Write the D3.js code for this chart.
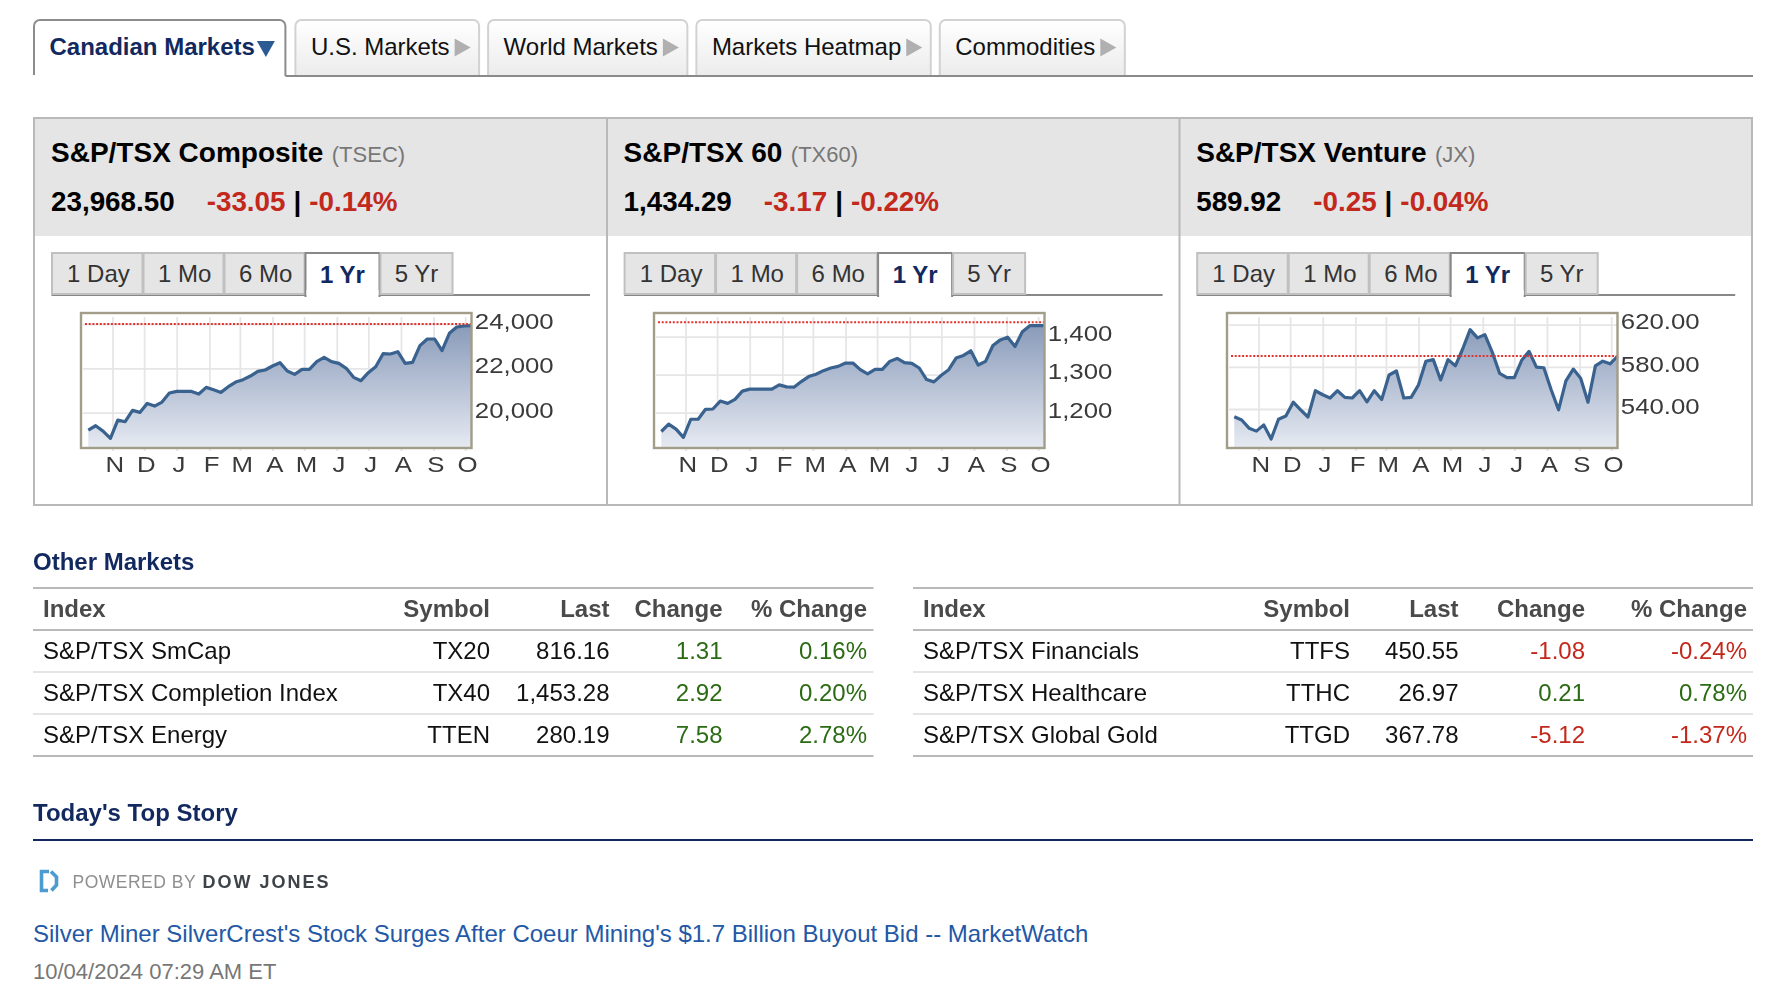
<!DOCTYPE html>
<html>
<head>
<meta charset="utf-8">
<script src="https://d3js.org/d3.v7.min.js"></script>
<style>
  html, body { margin: 0; padding: 0; background: #fff; }
  svg { display: block; }
  text { font-family: "Liberation Sans", Arial, sans-serif; }
  .soft { filter: blur(0.65px); }
</style>
</head>
<body>
<div id="page"></div>
<script>
// tabs
var tabNames = ["Canadian Markets", "U.S. Markets", "World Markets", "Markets Heatmap", "Commodities"];
var rangeNames = ["1 Day", "1 Mo", "6 Mo", "1 Yr", "5 Yr"];
var monthLetters = ["N", "D", "J", "F", "M", "A", "M", "J", "J", "A", "S", "O"];

// index panels
var panelNames = ["S&P/TSX Composite", "S&P/TSX 60", "S&P/TSX Venture"];
var panelSymbols = ["(TSEC)", "(TX60)", "(JX)"];
var panelLast = ["23,968.50", "1,434.29", "589.92"];
var panelChange = ["-33.05", "-3.17", "-0.25"];
var panelPercent = ["-0.14%", "-0.22%", "-0.04%"];
var prevClose = [24001.55, 1437.46, 590.17];

// value range of each plot frame, and the labelled ticks
var frameDomains = [[18410, 24495], [1107, 1462], [503, 631]];
var tickValues = [[20000, 22000, 24000], [1200, 1300, 1400], [540, 580, 620]];
var tickFormats = [",", ",", ".2f"];

// weekly closes
var composite = [19218, 19413, 19172, 18842, 19669, 19594, 20105, 20015, 20421, 20300, 20481, 20887, 20962,
  20962, 20962, 20842, 21143, 21037, 20917, 21173, 21383, 21489, 21654, 21865, 21925, 22105, 22256,
  21880, 21729, 21955, 21955, 22301, 22496, 22301, 22226, 22000, 21594, 21444, 21805, 22075, 22662,
  22647, 22752, 22226, 22271, 23023, 23324, 23324, 22797, 23579, 23865, 23910, 23925];
var tx60 = [1150.4, 1169.6, 1156.5, 1134.8, 1182.6, 1182.6, 1208.7, 1209.6, 1230.4, 1224.3, 1234.8, 1256.5, 1261.7,
  1261.7, 1261.7, 1261.7, 1273, 1267.8, 1267, 1281.7, 1294.8, 1300.9, 1310.4, 1317.4, 1321.7, 1330.4, 1330.4,
  1313, 1301.7, 1313.9, 1313.9, 1334.8, 1342.6, 1331.3, 1329.6, 1317.4, 1287, 1280.9, 1298.3, 1313, 1343.5,
  1350.4, 1362.6, 1325.2, 1334.8, 1376.5, 1391.3, 1398.3, 1373.9, 1413, 1428.7, 1428.7, 1428.7];
var venture = [532.7, 529.6, 521.8, 519, 524.9, 511.5, 530.2, 533.3, 546.4, 539.2, 532.4, 557.3, 553.5,
  550.4, 557.3, 551, 550.4, 557.3, 546.7, 557.3, 548.9, 572.2, 576, 550.4, 551, 562.9, 585.3,
  586.8, 567.5, 586.8, 580.9, 597.1, 615.2, 607.4, 610.5, 594, 573.8, 569.7, 569.7, 586.2, 594.6,
  579.7, 579.1, 558.2, 539.2, 566.6, 577.8, 569.1, 546.4, 580.9, 585.3, 582.8, 590];
var panelSeries = [composite, tx60, venture];
var firstWeek = new Date(2023, 9, 9);

// other markets tables
var tableHeaders = ["Index", "Symbol", "Last", "Change", "% Change"];
var leftNames = ["S&P/TSX SmCap", "S&P/TSX Completion Index", "S&P/TSX Energy"];
var leftSymbols = ["TX20", "TX40", "TTEN"];
var leftLast = ["816.16", "1,453.28", "280.19"];
var leftChange = ["1.31", "2.92", "7.58"];
var leftPercent = ["0.16%", "0.20%", "2.78%"];
var rightNames = ["S&P/TSX Financials", "S&P/TSX Healthcare", "S&P/TSX Global Gold"];
var rightSymbols = ["TTFS", "TTHC", "TTGD"];
var rightLast = ["450.55", "26.97", "367.78"];
var rightChange = ["-1.08", "0.21", "-5.12"];
var rightPercent = ["-0.24%", "0.78%", "-1.37%"];

var storyHeadline = "Silver Miner SilverCrest's Stock Surges After Coeur Mining's $1.7 Billion Buyout Bid -- MarketWatch";
var storyDate = "10/04/2024 07:29 AM ET";

var navy = "#12295f", red = "#c3281c", green = "#2b6b14", rule = "#b9b9b9";

var svg = d3.select("#page").append("svg").attr("width", 1786).attr("height", 1008);
var defs = svg.append("defs");

function label(parent, x, y, str, size, color, weight, anchor) {
  return parent.append("text").attr("x", x).attr("y", y).text(str)
    .attr("font-size", size).attr("fill", color)
    .attr("font-weight", weight || "normal").attr("text-anchor", anchor || "start");
}

// ---- top tabs ----
var tabFill = defs.append("linearGradient").attr("id", "tabFill").attr("x1", 0).attr("x2", 0).attr("y1", 0).attr("y2", 1);
tabFill.append("stop").attr("offset", 0).attr("stop-color", "#ffffff");
tabFill.append("stop").attr("offset", 1).attr("stop-color", "#ececec");

var tabLayer = svg.append("g");
var tabX = 34;
tabNames.forEach(function(name, i) {
  var active = i == 0;
  var g = tabLayer.append("g");
  var path = g.append("path");
  var t = label(g, tabX + 15.5, 54.5, name, 24, active ? navy : "#111", active ? "bold" : "normal");
  var end = tabX + 15.5 + t.node().getComputedTextLength();
  var right;
  if (active) {
    right = end + 30.5;
    g.append("path").attr("d", d3.line()([[end + 2, 41], [end + 20, 41], [end + 11, 57]])).attr("fill", "#2c5a93");
  } else {
    right = end + 29.5;
    g.append("path").attr("d", d3.line()([[end + 5, 38.5], [end + 21, 47.5], [end + 5, 56.5]])).attr("fill", "#b0b0b0");
  }
  path.attr("d", "M" + tabX + ",75V26a6,6 0 0 1 6,-6H" + (right - 6) + "a6,6 0 0 1 6,6V" + (active ? 76 : 75))
    .attr("fill", active ? "#fff" : "url(#tabFill)")
    .attr("stroke", active ? "#8c8c8c" : "#d2d2d2").attr("stroke-width", 2);
  if (active) {
    svg.append("line").attr("x1", right).attr("x2", 1753).attr("y1", 76).attr("y2", 76)
      .attr("stroke", "#8a8a8a").attr("stroke-width", 2);
  }
  tabX = right + (active ? 10 : 9);
});

// ---- index panels ----
var areaFill = defs.append("linearGradient").attr("id", "areaFill").attr("gradientUnits", "userSpaceOnUse")
  .attr("x1", 0).attr("x2", 0).attr("y1", 313).attr("y2", 448);
areaFill.append("stop").attr("offset", 0).attr("stop-color", "#8093b4");
areaFill.append("stop").attr("offset", 1).attr("stop-color", "#e6eaf2");

svg.append("rect").attr("x", 34).attr("y", 118).attr("width", 1718).attr("height", 118).attr("fill", "#e5e5e5");

function drawPanel(i) {
  var dx = 572.6 * i;
  var g = svg.append("g").attr("transform", "translate(" + dx + ",0)");

  var title = label(g, 51, 162, panelNames[i], 28, "#000", "bold");
  label(g, 51 + title.node().getComputedTextLength() + 8.5, 162, panelSymbols[i], 22, "#777");
  var last = label(g, 51, 211, panelLast[i], 27.8, "#000", "bold");
  var cx = 51 + last.node().getComputedTextLength() + 32;
  var chg = label(g, cx, 211, panelChange[i], 27.8, red, "bold");
  cx += chg.node().getComputedTextLength() + 8;
  var bar = label(g, cx, 211, "|", 27.8, "#000", "bold");
  cx += bar.node().getComputedTextLength() + 8;
  label(g, cx, 211, panelPercent[i], 27.8, red, "bold");

  // range buttons
  var edges = [51.5, 143, 224, 305, 380, 453];
  g.append("line").attr("x1", 51.5).attr("x2", 590).attr("y1", 295).attr("y2", 295)
    .attr("stroke", "#888").attr("stroke-width", 2);
  rangeNames.forEach(function(name, b) {
    var active = b == 3;
    g.append("rect").attr("x", edges[b] + 0.5).attr("y", 253).attr("width", edges[b + 1] - edges[b] - 1).attr("height", active ? 43 : 41)
      .attr("fill", active ? "#fff" : "#e5e5e5").attr("stroke", active ? "#888" : "#c0c0c0").attr("stroke-width", 2);
    if (active) {
      g.append("rect").attr("x", edges[b] + 1.5).attr("y", 290).attr("width", edges[b + 1] - edges[b] - 3).attr("height", 7).attr("fill", "#fff");
    }
    label(g, (edges[b] + edges[b + 1]) / 2 + (b < 3 ? 1.2 : 0), active ? 283 : 282, name, 24, active ? navy : "#333", active ? "bold" : "normal", "middle");
  });

  // plot
  var values = panelSeries[i];
  var points = values.map(function(v, k) { return { date: d3.timeDay.offset(firstWeek, 7 * k), value: v }; });
  var left = 81, right = 471.5, top = 313, bottom = 448;
  var x = d3.scaleTime().domain(d3.extent(points, function(d) { return d.date; })).range([88.3, right]);
  var y = d3.scaleLinear().domain(frameDomains[i]).range([bottom, top]);
  var months = d3.timeMonth.range(new Date(2023, 10, 1), new Date(2024, 10, 1));

  var plot = g.append("g").attr("class", "soft").attr("transform", "translate(" + (0.4 * i) + ",0)");

  var xGrid = d3.axisBottom(x).tickValues(months).tickSize(top + 1 - bottom).tickFormat("");
  plot.append("g").attr("transform", "translate(0," + (bottom + 3) + ")").call(xGrid)
    .call(function(a) { a.select(".domain").remove(); a.selectAll("line").attr("stroke", "#e6e6e6").attr("stroke-width", 1.8); });
  var yGrid = d3.axisLeft(y).tickValues(tickValues[i]).tickSize(left + 2 - right).tickFormat("");
  plot.append("g").attr("transform", "translate(" + (left + 2) + ",0)").call(yGrid)
    .call(function(a) { a.select(".domain").remove(); a.selectAll("line").attr("stroke", "#e6e6e6").attr("stroke-width", 1.8); });

  plot.append("path").datum(points).attr("fill", "url(#areaFill)")
    .attr("d", d3.area().x(function(d) { return x(d.date); }).y0(bottom).y1(function(d) { return y(d.value); }));
  plot.append("path").datum(points).attr("fill", "none").attr("stroke", "#3a628f").attr("stroke-width", 3.2)
    .attr("stroke-linejoin", "round")
    .attr("d", d3.line().x(function(d) { return x(d.date); }).y(function(d) { return y(d.value); }));

  plot.append("line").attr("x1", left + 4).attr("x2", right).attr("y1", y(prevClose[i])).attr("y2", y(prevClose[i]))
    .attr("stroke", "#e2332f").attr("stroke-width", 2).attr("stroke-dasharray", "2 1.7");

  plot.append("rect").attr("x", left).attr("y", top).attr("width", right - left).attr("height", bottom - top)
    .attr("fill", "none").attr("stroke", "#a19d88").attr("stroke-width", 2.4);

  // tick labels are stretched wide in the reference
  var yAxis = d3.axisRight(y).tickValues(tickValues[i]).tickSize(0).tickFormat(d3.format(tickFormats[i]));
  plot.append("g").attr("transform", "translate(" + right + ",0)").call(yAxis)
    .call(function(a) {
      a.select(".domain").remove();
      a.selectAll("text").attr("x", 2.8).attr("dy", "0.32em").attr("y", -2.5).attr("font-size", 21.5).attr("fill", "#3a3a3a")
        .style("font-family", '"Liberation Sans", Arial, sans-serif').attr("transform", "scale(1.2,1)");
    });
  var xAxis = d3.axisBottom(x).tickValues(months).tickSize(0)
    .tickFormat(function(d, k) { return monthLetters[k]; });
  plot.append("g").attr("transform", "translate(0," + bottom + ")").call(xAxis)
    .call(function(a) {
      a.select(".domain").remove();
      a.selectAll("text").attr("x", 1.5).attr("y", 24).attr("dy", 0).attr("font-size", 21.5).attr("fill", "#3a3a3a")
        .style("font-family", '"Liberation Sans", Arial, sans-serif').attr("transform", "scale(1.2,1)");
    });
}
panelNames.forEach(function(n, i) { drawPanel(i); });

svg.append("rect").attr("x", 34).attr("y", 118).attr("width", 1718).attr("height", 387)
  .attr("fill", "none").attr("stroke", rule).attr("stroke-width", 2);
[607, 1179.5].forEach(function(px) {
  svg.append("line").attr("x1", px).attr("x2", px).attr("y1", 118).attr("y2", 505).attr("stroke", rule).attr("stroke-width", 2);
});

// ---- other markets ----
label(svg, 33, 570, "Other Markets", 24, navy, "bold");

function drawTable(x0, x1, cols, names, symbols, last, change, percent) {
  var g = svg.append("g");
  var rowY = d3.scalePoint().domain(d3.range(3)).range([659, 743]);
  [[588, rule], [630, rule], [672, "#e4e4e4"], [714, "#e4e4e4"], [756, rule]].forEach(function(r) {
    g.append("line").attr("x1", x0).attr("x2", x1).attr("y1", r[0]).attr("y2", r[0]).attr("stroke", r[1]).attr("stroke-width", 2);
  });
  tableHeaders.forEach(function(h, c) {
    label(g, cols[c], 617, h, 24, "#4a4a4a", "bold", c == 0 ? "start" : "end");
  });
  names.forEach(function(name, r) {
    var color = change[r].charAt(0) == "-" ? red : green;
    label(g, cols[0], rowY(r), name, 24, "#111");
    label(g, cols[1], rowY(r), symbols[r], 24, "#111", "normal", "end");
    label(g, cols[2], rowY(r), last[r], 24, "#111", "normal", "end");
    label(g, cols[3], rowY(r), change[r], 24, color, "normal", "end");
    label(g, cols[4], rowY(r), percent[r], 24, color, "normal", "end");
  });
}
drawTable(33, 873.5, [43, 490, 609.5, 722.5, 867], leftNames, leftSymbols, leftLast, leftChange, leftPercent);
drawTable(913, 1753, [923, 1350, 1458.5, 1585, 1747], rightNames, rightSymbols, rightLast, rightChange, rightPercent);

// ---- top story ----
label(svg, 33, 821, "Today's Top Story", 24, navy, "bold");
svg.append("line").attr("x1", 33).attr("x2", 1753).attr("y1", 840).attr("y2", 840).attr("stroke", navy).attr("stroke-width", 2);

var powered = svg.append("g").attr("class", "soft");
powered.append("path").attr("d", "M49,871.5H41.5V890.5H48M51,871.5L56.5,877V885L51.5,890.5")
  .attr("fill", "none").attr("stroke", "#4d9ccf").attr("stroke-width", 3.6);
label(powered, 72.5, 888, "POWERED BY", 17.5, "#8f8f8f").attr("letter-spacing", 0.5);
label(powered, 202.5, 888, "DOW JONES", 18, "#3d4348", "bold").attr("letter-spacing", 2);

label(svg, 33, 942, storyHeadline, 24, "#2358a6");
label(svg, 33, 979, storyDate, 22, "#777");
</script>
</body>
</html>
